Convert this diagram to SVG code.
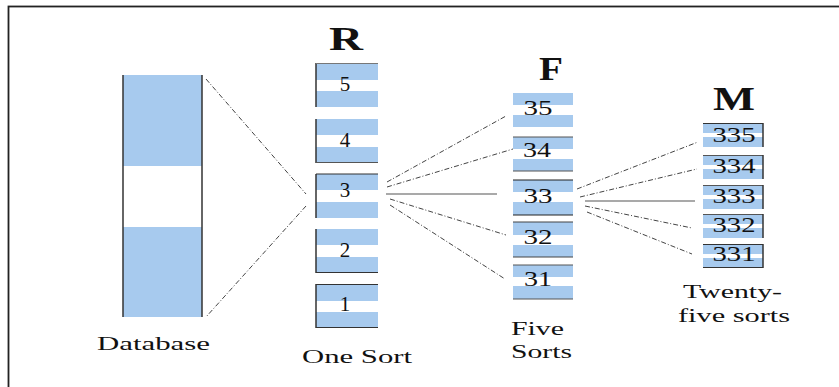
<svg xmlns="http://www.w3.org/2000/svg" width="839" height="387" viewBox="0 0 839 387">
  <style>
    .blue { fill: #a7caee; }
    .edge { stroke: #333; stroke-width: 1.5; fill: none; }
    .conn { stroke: #444; stroke-width: 1; fill: none; stroke-dasharray: 5 2 1 2; }
    .solid { stroke: #555; stroke-width: 1.2; fill: none; }
    .num { font-family: "Liberation Serif", "Times New Roman", serif; font-size: 21px; fill: #111; text-anchor: middle; }
    .head { font-family: "Liberation Serif", "Times New Roman", serif; font-size: 33px; font-weight: bold; fill: #111; }
    .cap { font-family: "Liberation Serif", "Times New Roman", serif; font-size: 19px; fill: #111; }
  </style>
  <rect width="839" height="387" fill="#fff"/>
  <!-- frame -->
  <rect x="8.5" y="6.5" width="840" height="400" fill="none" stroke="#222" stroke-width="1.8"/>

  <!-- Database -->
  <g id="database">
    <rect class="blue" x="123" y="75" width="79" height="91"/>
    <rect class="blue" x="123" y="227" width="79" height="90"/>
    <line class="edge" x1="123" y1="75" x2="123" y2="317"/>
    <line class="edge" x1="202" y1="75" x2="202" y2="317"/>
    <text class="cap" x="97" y="350" textLength="113" lengthAdjust="spacingAndGlyphs">Database</text>
  </g>

  <!-- R column -->
  <g id="r-column">
    <text class="head" x="329" y="50" textLength="34" lengthAdjust="spacingAndGlyphs">R</text>
    <g id="r5">
      <rect class="blue" x="316" y="63" width="62" height="17"/>
      <rect class="blue" x="316" y="91" width="62" height="16"/>
      <line class="edge" x1="316" y1="63" x2="316" y2="107"/>
      <line x1="316" y1="63.5" x2="378" y2="63.5" stroke="#777" stroke-width="1"/>
      <text class="num" x="345" y="91">5</text>
    </g>
    <g id="r4">
      <rect class="blue" x="316" y="119" width="62" height="16"/>
      <rect class="blue" x="316" y="147" width="62" height="16"/>
      <line class="edge" x1="316" y1="119" x2="316" y2="163"/>
      <line x1="316" y1="162.5" x2="378" y2="162.5" stroke="#555" stroke-width="1"/>
      <text class="num" x="345" y="147">4</text>
    </g>
    <g id="r3">
      <rect class="blue" x="316" y="174" width="62" height="16"/>
      <rect class="blue" x="316" y="202" width="62" height="16"/>
      <line class="edge" x1="316" y1="174" x2="316" y2="218"/>
      <line x1="316" y1="174" x2="378" y2="174" stroke="#333" stroke-width="1.2"/>
      <text class="num" x="345" y="197">3</text>
    </g>
    <g id="r2">
      <rect class="blue" x="316" y="229" width="62" height="16"/>
      <rect class="blue" x="316" y="257" width="62" height="16"/>
      <line class="edge" x1="316" y1="229" x2="316" y2="273"/>
      <line x1="316" y1="272.5" x2="378" y2="272.5" stroke="#333" stroke-width="1.2"/>
      <text class="num" x="345" y="257">2</text>
    </g>
    <g id="r1">
      <rect class="blue" x="316" y="284" width="62" height="17"/>
      <rect class="blue" x="316" y="312" width="62" height="16"/>
      <line class="edge" x1="316" y1="284" x2="316" y2="328"/>
      <line x1="316" y1="284.5" x2="378" y2="284.5" stroke="#333" stroke-width="1.2"/>
      <line x1="316" y1="327.5" x2="378" y2="327.5" stroke="#333" stroke-width="1.2"/>
      <text class="num" x="345" y="311">1</text>
    </g>
    <text class="cap" x="302" y="363" textLength="110" lengthAdjust="spacingAndGlyphs">One Sort</text>
  </g>

  <!-- F column -->
  <g id="f-column">
    <text class="head" x="539" y="80" textLength="24" lengthAdjust="spacingAndGlyphs">F</text>
    <g id="f35">
      <rect class="blue" x="513" y="93" width="60" height="12"/>
      <rect class="blue" x="513" y="115" width="60" height="12"/>
      <text class="num" x="538" y="115" textLength="29" lengthAdjust="spacingAndGlyphs">35</text>
    </g>
    <g id="f34">
      <rect class="blue" x="513" y="137" width="60" height="12"/>
      <rect class="blue" x="513" y="159" width="60" height="12"/>
      <line x1="513" y1="137" x2="573" y2="137" stroke="#555" stroke-width="1"/>
      <line x1="513" y1="171" x2="573" y2="171" stroke="#555" stroke-width="1"/>
      <text class="num" x="537" y="157" textLength="28" lengthAdjust="spacingAndGlyphs">34</text>
    </g>
    <g id="f33">
      <rect class="blue" x="513" y="180" width="60" height="12"/>
      <rect class="blue" x="513" y="202" width="60" height="13"/>
      <line x1="513" y1="180" x2="573" y2="180" stroke="#222" stroke-width="1.2"/>
      <line x1="513" y1="215" x2="573" y2="215" stroke="#222" stroke-width="1.2"/>
      <text class="num" x="538" y="203" textLength="29" lengthAdjust="spacingAndGlyphs">33</text>
    </g>
    <g id="f32">
      <rect class="blue" x="513" y="222" width="60" height="13"/>
      <rect class="blue" x="513" y="245" width="60" height="12"/>
      <line x1="513" y1="222" x2="573" y2="222" stroke="#444" stroke-width="1.2"/>
      <line x1="513" y1="257" x2="573" y2="257" stroke="#444" stroke-width="1.2"/>
      <text class="num" x="538" y="244" textLength="29" lengthAdjust="spacingAndGlyphs">32</text>
    </g>
    <g id="f31">
      <rect class="blue" x="513" y="265" width="60" height="12"/>
      <rect class="blue" x="513" y="286" width="60" height="13"/>
      <line x1="513" y1="265" x2="573" y2="265" stroke="#555" stroke-width="1"/>
      <line x1="513" y1="299" x2="573" y2="299" stroke="#555" stroke-width="1"/>
      <text class="num" x="538" y="286" textLength="28" lengthAdjust="spacingAndGlyphs">31</text>
    </g>
    <text class="cap" x="511" y="335" textLength="53" lengthAdjust="spacingAndGlyphs">Five</text>
    <text class="cap" x="511" y="358" textLength="61" lengthAdjust="spacingAndGlyphs">Sorts</text>
  </g>

  <!-- M column -->
  <g id="m-column">
    <text class="head" x="713" y="110" textLength="42" lengthAdjust="spacingAndGlyphs">M</text>
    <g id="m335">
      <rect class="blue" x="703" y="123" width="60" height="10"/>
      <rect class="blue" x="703" y="137" width="60" height="10"/>
      <line x1="703" y1="123.5" x2="763" y2="123.5" stroke="#333" stroke-width="1.2"/>
      <line class="edge" x1="763" y1="123" x2="763" y2="147"/>
      <text class="num" x="734" y="142" font-size="20" textLength="43" lengthAdjust="spacingAndGlyphs">335</text>
    </g>
    <g id="m334">
      <rect class="blue" x="703" y="155" width="60" height="10"/>
      <rect class="blue" x="703" y="169" width="60" height="10"/>
      <line x1="703" y1="155.5" x2="763" y2="155.5" stroke="#555" stroke-width="1"/>
      <line class="edge" x1="763" y1="155" x2="763" y2="179"/>
      <text class="num" x="734" y="173" font-size="20" textLength="43" lengthAdjust="spacingAndGlyphs">334</text>
    </g>
    <g id="m333">
      <rect class="blue" x="703" y="185" width="60" height="10"/>
      <rect class="blue" x="703" y="199" width="60" height="10"/>
      <line x1="703" y1="185.5" x2="763" y2="185.5" stroke="#555" stroke-width="1"/>
      <line class="edge" x1="763" y1="185" x2="763" y2="209"/>
      <text class="num" x="734" y="203" font-size="20" textLength="43" lengthAdjust="spacingAndGlyphs">333</text>
    </g>
    <g id="m332">
      <rect class="blue" x="703" y="214" width="60" height="10"/>
      <rect class="blue" x="703" y="228" width="60" height="10"/>
      <line x1="703" y1="214.5" x2="763" y2="214.5" stroke="#555" stroke-width="1"/>
      <line class="edge" x1="763" y1="214" x2="763" y2="238"/>
      <text class="num" x="734" y="232" font-size="20" textLength="43" lengthAdjust="spacingAndGlyphs">332</text>
    </g>
    <g id="m331">
      <rect class="blue" x="703" y="244" width="60" height="10"/>
      <rect class="blue" x="703" y="258" width="60" height="10"/>
      <line x1="703" y1="244.5" x2="763" y2="244.5" stroke="#333" stroke-width="1.2"/>
      <line x1="703" y1="267.5" x2="763" y2="267.5" stroke="#333" stroke-width="1.2"/>
      <line class="edge" x1="763" y1="244" x2="763" y2="268"/>
      <text class="num" x="734" y="261" font-size="20" textLength="43" lengthAdjust="spacingAndGlyphs">331</text>
    </g>
    <text class="cap" x="683" y="298" textLength="99" lengthAdjust="spacingAndGlyphs">Twenty-</text>
    <text class="cap" x="678" y="322" textLength="112" lengthAdjust="spacingAndGlyphs">five sorts</text>
  </g>

  <!-- connectors -->
  <g id="connectors">
    <line class="conn" x1="206" y1="79" x2="306" y2="194"/>
    <line class="conn" x1="306" y1="206" x2="206" y2="317"/>

    <line class="conn" x1="387" y1="182" x2="506" y2="116"/>
    <line class="conn" x1="387" y1="187" x2="513" y2="149"/>
    <line class="solid" x1="386" y1="194" x2="497" y2="194"/>
    <line class="conn" x1="390" y1="199" x2="506" y2="235"/>
    <line class="conn" x1="390" y1="205" x2="505" y2="279"/>

    <line class="conn" x1="577" y1="189" x2="698" y2="142"/>
    <line class="conn" x1="580" y1="197" x2="697" y2="169"/>
    <line class="solid" x1="585" y1="201" x2="695" y2="201"/>
    <line class="conn" x1="585" y1="206" x2="692" y2="228"/>
    <line class="conn" x1="587" y1="212" x2="692" y2="254"/>
  </g>
</svg>
